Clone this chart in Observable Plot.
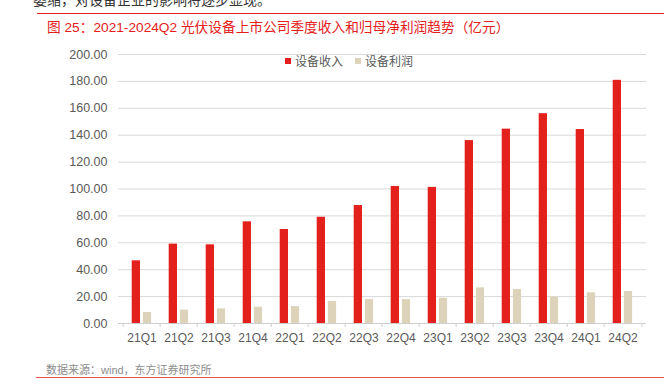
<!DOCTYPE html>
<html><head><meta charset="utf-8">
<script src="https://cdn.jsdelivr.net/npm/d3@7"></script>
<script src="https://cdn.jsdelivr.net/npm/@observablehq/plot@0.6"></script>
<style>
body{margin:0;background:#fff;font-family:"Liberation Sans","Noto Sans CJK SC",sans-serif;}
#wrap{position:relative;width:664px;height:392px;overflow:hidden;background:#fff;}
.abs{position:absolute;white-space:nowrap;}
#topText{left:33px;top:-11px;font-size:14px;color:#333;}
#line1{left:37px;right:0;top:13px;height:1px;background:#e3201b;}
#title{left:47px;top:16px;font-size:13.7px;color:#e3201b;}
#legend{left:285px;top:52px;font-size:12px;color:#595959;display:flex;align-items:center;}
#legend .sw{display:inline-block;width:6px;height:6px;margin-right:4px;}
#legend .item{display:flex;align-items:center;margin-right:12px;}
#source{left:46px;top:361px;font-size:11px;color:#8c8c8c;}
#line2{left:36px;right:0;top:377px;height:1px;background:#e8504a;}
#chart{position:absolute;left:0;top:0;}
#chart svg{font-family:"Liberation Sans",sans-serif;}
</style></head><body>
<div id="wrap">
  <div id="chart"></div>
  <div class="abs" id="topText">萎缩，对设备企业的影响将逐步显现。</div>
  <div class="abs" id="line1"></div>
  <div class="abs" id="title">图 25：2021-2024Q2 光伏设备上市公司季度收入和归母净利润趋势（亿元）</div>
  <div class="abs" id="legend"></div>
  <div class="abs" id="source">数据来源：wind，东方证券研究所</div>
  <div class="abs" id="line2"></div>
</div>
<script>
const quarters = ["21Q1","21Q2","21Q3","21Q4","22Q1","22Q2","22Q3","22Q4","23Q1","23Q2","23Q3","23Q4","24Q1","24Q2"];
const revenue = [46.6, 59.0, 58.5, 75.6, 69.9, 79.0, 87.7, 101.9, 101.2, 136.0, 144.5, 156.0, 144.2, 180.8];
const profit  = [8.2, 9.9, 10.9, 12.1, 12.6, 16.4, 17.8, 17.8, 18.8, 26.5, 25.3, 19.6, 22.8, 23.8];
const seriesNames = ["设备收入", "设备利润"];
const seriesColors = ["#e3201b", "#ddd3bb"];
const yTicks = [0,20,40,60,80,100,120,140,160,180,200];

const W = 664, H = 392, mL = 118, mR = 18, mT = 54, mB = 69;
const bw = (W - mL - mR) / quarters.length;

const revData = quarters.map((q,i)=>({q, v: revenue[i]}));
const proData = quarters.map((q,i)=>({q, v: profit[i]}));

const chart = Plot.plot({
  width: W, height: H,
  marginLeft: mL, marginRight: mR, marginTop: mT, marginBottom: mB,
  style: {fontSize: "12px", color: "#595959", background: "transparent"},
  x: {type: "band", domain: quarters, padding: 0, label: null},
  y: {domain: [0, 200], label: null},
  marks: [
    Plot.gridY(yTicks, {stroke: "#d9d9d9", strokeOpacity: 1, strokeWidth: 1}),
    Plot.axisY(yTicks, {tickSize: 0, tickPadding: 11, tickFormat: d3.format(".2f"), fill: "#595959", fontSize: 12.5}),
    Plot.barY(revData, {x: "q", y: "v", fill: seriesColors[0], insetLeft: 8.7, insetRight: bw - 17.7}),
    Plot.barY(proData, {x: "q", y: "v", fill: seriesColors[1], insetLeft: 19.9, insetRight: bw - 28.8}),
    Plot.ruleY([0], {stroke: "#cfcfcf", strokeWidth: 1.2}),
    Plot.axisX({tickSize: 0, tickPadding: 10, fill: "#595959", fontSize: 12, label: null}),
    Plot.axisX({tickSize: 4, text: null, dx: -bw/2, stroke: "#cfcfcf", label: null}),
    Plot.axisX([quarters[quarters.length-1]], {tickSize: 4, text: null, dx: bw/2, stroke: "#cfcfcf", label: null})
  ]
});
document.getElementById("chart").appendChild(chart);

const lg = document.getElementById("legend");
seriesNames.forEach((n,i)=>{
  const it = document.createElement("span"); it.className = "item";
  const sw = document.createElement("span"); sw.className = "sw"; sw.style.background = seriesColors[i];
  it.appendChild(sw); it.appendChild(document.createTextNode(n));
  lg.appendChild(it);
});
</script>
</body></html>
